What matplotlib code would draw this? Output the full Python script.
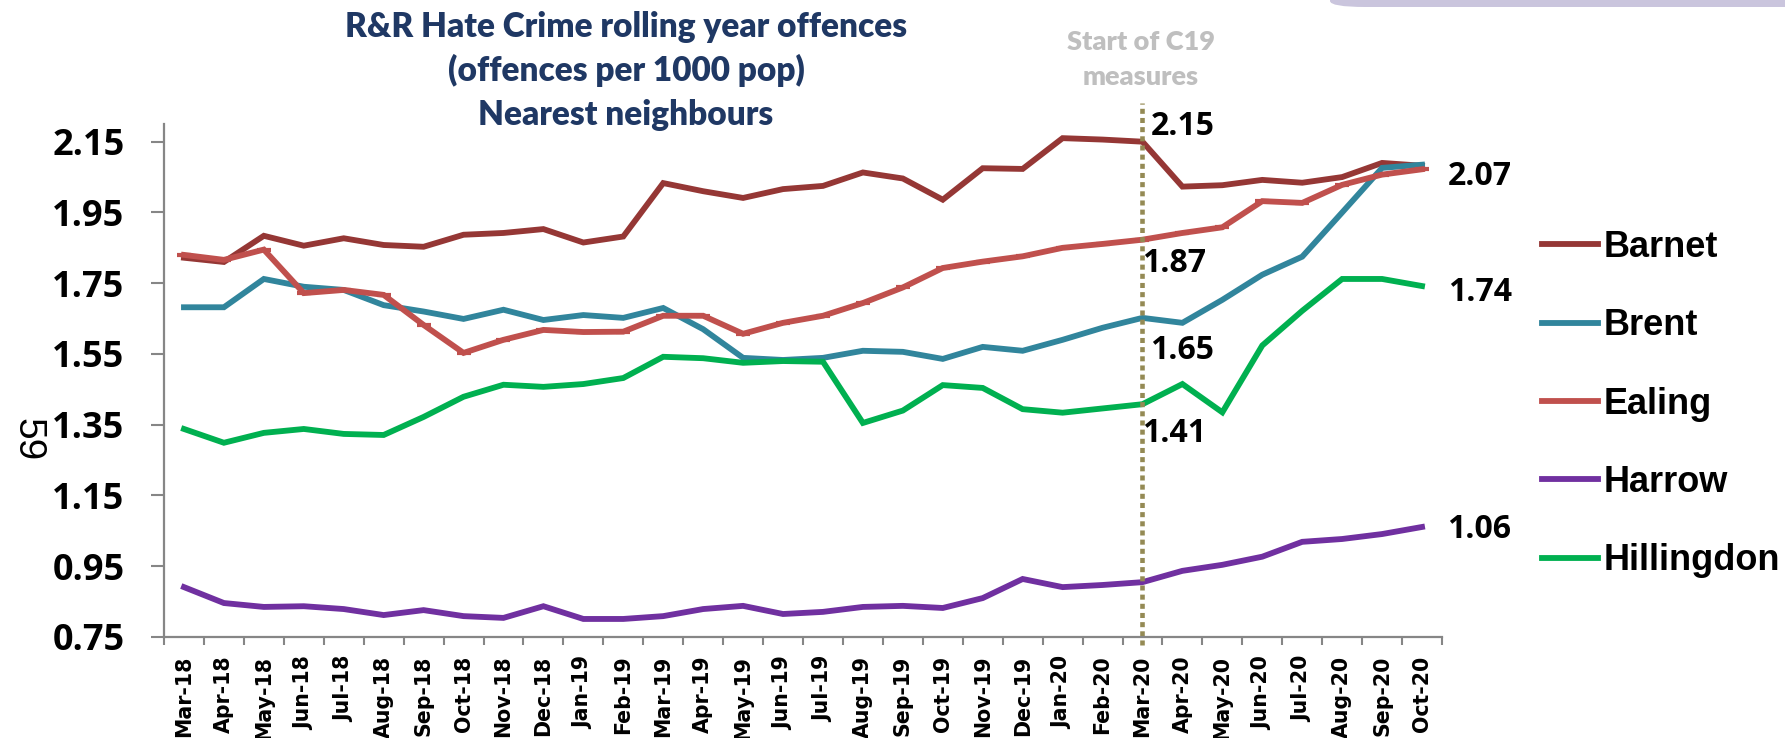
import matplotlib
matplotlib.use("Agg")
import matplotlib.pyplot as plt
from matplotlib.patches import FancyBboxPatch

months = ["Mar-18", "Apr-18", "May-18", "Jun-18", "Jul-18", "Aug-18", "Sep-18", "Oct-18",
          "Nov-18", "Dec-18", "Jan-19", "Feb-19", "Mar-19", "Apr-19", "May-19", "Jun-19",
          "Jul-19", "Aug-19", "Sep-19", "Oct-19", "Nov-19", "Dec-19", "Jan-20", "Feb-20",
          "Mar-20", "Apr-20", "May-20", "Jun-20", "Jul-20", "Aug-20", "Sep-20", "Oct-20"]

barnet = [1.822, 1.810, 1.884, 1.856, 1.877, 1.858, 1.853, 1.887, 1.892, 1.903, 1.865, 1.882,
          2.033, 2.010, 1.991, 2.016, 2.025, 2.063, 2.046, 1.986, 2.075, 2.073, 2.160, 2.156,
          2.150, 2.023, 2.027, 2.042, 2.034, 2.050, 2.090, 2.082]
brent = [1.682, 1.682, 1.762, 1.740, 1.731, 1.688, 1.670, 1.649, 1.675, 1.646, 1.660, 1.652,
         1.680, 1.620, 1.539, 1.533, 1.539, 1.559, 1.556, 1.536, 1.570, 1.559, 1.590, 1.624,
         1.652, 1.638, 1.703, 1.774, 1.825, 1.950, 2.076, 2.085]
ealing = [1.830, 1.816, 1.845, 1.722, 1.731, 1.717, 1.632, 1.553, 1.590, 1.618, 1.612, 1.613,
          1.658, 1.658, 1.607, 1.638, 1.658, 1.694, 1.738, 1.793, 1.811, 1.826, 1.850, 1.861,
          1.873, 1.892, 1.908, 1.982, 1.977, 2.028, 2.057, 2.072]
harrow = [0.891, 0.846, 0.835, 0.837, 0.829, 0.812, 0.826, 0.809, 0.804, 0.837, 0.801, 0.801,
          0.809, 0.829, 0.838, 0.815, 0.821, 0.835, 0.838, 0.832, 0.860, 0.914, 0.891, 0.897,
          0.905, 0.937, 0.954, 0.977, 1.019, 1.027, 1.041, 1.061]
hillingdon = [1.338, 1.299, 1.327, 1.338, 1.324, 1.321, 1.372, 1.429, 1.463, 1.457, 1.465, 1.482,
              1.542, 1.538, 1.525, 1.530, 1.528, 1.355, 1.390, 1.462, 1.454, 1.394, 1.384, 1.396,
              1.408, 1.465, 1.385, 1.574, 1.672, 1.762, 1.762, 1.742]

names = ["Barnet", "Brent", "Ealing", "Harrow", "Hillingdon"]
colors = ["#953735", "#31859C", "#C0504D", "#7030A0", "#00B050"]
yticks = [0.75, 0.95, 1.15, 1.35, 1.55, 1.75, 1.95, 2.15]
c19_month = "Mar-20"

AXIS_GREY = "#868686"
NUM_FONT = "Open Sans"

fig = plt.figure(figsize=(17.85, 7.38), dpi=100)
ax = fig.add_axes([164 / 1785, 1 - 637 / 738, (1442 - 164) / 1785, 513 / 738])

x = list(range(len(months)))
series = [barnet, brent, ealing, harrow, hillingdon]
for name, vals, col in zip(names, series, colors):
    kw = {}
    if name == "Ealing":
        # excel draws little dashes on the ealing points
        kw = dict(marker="_", markersize=10, markeredgewidth=3)
    ax.plot(x, vals, color=col, lw=4.2, label=name, solid_joinstyle="miter", **kw)

ax.set_xlim(-0.5, len(months) - 0.5)
ax.set_ylim(0.75, 2.2)

for side in ["top", "right"]:
    ax.spines[side].set_visible(False)
for side in ["left", "bottom"]:
    ax.spines[side].set_color(AXIS_GREY)
    ax.spines[side].set_linewidth(1.6)

ax.set_yticks(yticks)
ax.set_yticklabels([f"{v:.2f}" for v in yticks], family=NUM_FONT, fontweight="bold", fontsize=26)
ax.tick_params(axis="y", length=9.5, width=1.5, color=AXIS_GREY, pad=19)

ax.set_xticks(x)
ax.set_xticklabels(months, rotation=90, family="DejaVu Sans", fontweight="bold", fontsize=14.8)
ax.set_xticks([i - 0.5 for i in range(len(months) + 1)], minor=True)
ax.tick_params(axis="x", which="major", length=0, pad=13.5)
ax.tick_params(axis="x", which="minor", length=6, width=1.5, color=AXIS_GREY)

# start of C19 measures marker
c19 = months.index(c19_month)
ax.axvline(c19, ymin=-0.016, ymax=1.041, clip_on=False, color="#948A54", lw=3.3,
           linestyle=(0, (1.1, 0.9)), dash_capstyle="butt")

# value labels around the C19 line and at the line ends
label_pts = [
    (c19, barnet[c19], "2.15", (8, 7)),
    (c19, ealing[c19], "1.87", (0, -32)),
    (c19, brent[c19], "1.65", (8, -41)),
    (c19, hillingdon[c19], "1.41", (0, -38)),
    (len(months) - 1, ealing[-1], "2.07", (26, -16)),
    (len(months) - 1, hillingdon[-1], "1.74", (26, -15)),
    (len(months) - 1, harrow[-1], "1.06", (25, -11)),
]
for xi, yi, txt, off in label_pts:
    ax.annotate(txt, xy=(xi, yi), xytext=off, textcoords="offset pixels",
                ha="left", va="baseline", family=NUM_FONT, fontweight="bold",
                fontsize=23, color="black", annotation_clip=False)

# title
title_lines = ["R&R Hate Crime rolling year offences", "(offences per 1000 pop)", "Nearest neighbours"]
for i, line in enumerate(title_lines):
    fig.text(626 / 1785, 1 - (37 + 44 * i) / 738, line, ha="center", va="baseline",
             family="Lato", fontweight="heavy", fontsize=24, color="#1F3864")

fig.text(1141 / 1785, 1 - 50 / 738, "Start of C19", ha="center", va="baseline",
         family="Lato", fontweight="heavy", fontsize=19.5, color="#BFBFBF")
fig.text(1141 / 1785, 1 - 85 / 738, "measures", ha="center", va="baseline",
         family="Lato", fontweight="heavy", fontsize=19.5, color="#BFBFBF")

fig.text(27 / 1785, 1 - 440 / 738, "59", rotation=-90, ha="center", va="center",
         family="Liberation Sans", fontsize=28, color="black")

leg = fig.legend(loc="upper left", bbox_to_anchor=(1542 / 1785, 1 - 230 / 738),
                 frameon=False, borderpad=0, borderaxespad=0, handlelength=1.55,
                 handletextpad=0.15, labelspacing=1.2,
                 prop={"family": "Liberation Sans", "weight": "bold", "size": 26})

# lavender slide decoration at the top right
deco = FancyBboxPatch((1330 / 1785, 1 - 7 / 738), 0.5, 0.05, boxstyle="round,pad=0,rounding_size=0.02",
                      transform=fig.transFigure, facecolor="#CAC5DD", edgecolor="none",
                      mutation_aspect=738 / 1785)
fig.patches.append(deco)

fig.savefig("out.png", dpi=100)
